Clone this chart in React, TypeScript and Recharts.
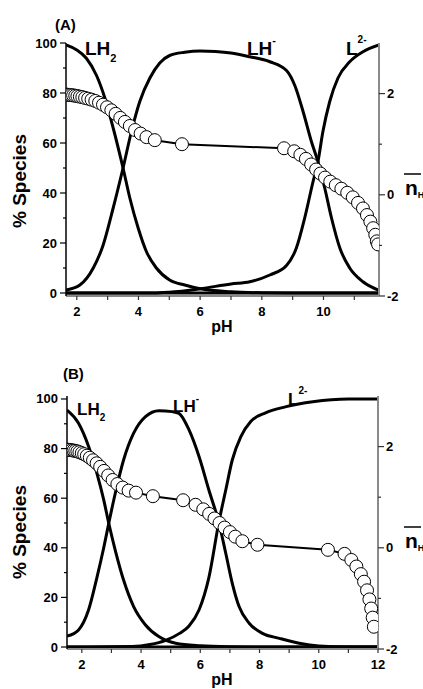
import React from "react";
import { ComposedChart, Line, XAxis, YAxis } from "recharts";

const FONT = "'Liberation Sans', Arial, sans-serif";

// ---- panel (A) ----
const phA_LH2 = [1.65, 2.0, 2.31, 2.64, 2.91, 3.18, 3.5, 3.72, 3.99, 4.26, 4.58, 5.01, 5.5, 6.0, 7.0, 8.0, 9.0, 11.8];
const pctA_LH2 = [99.2, 97.2, 93.9, 87, 78, 66, 50, 38, 26, 16.5, 10, 5.2, 3.2, 1.7, 0.5, 0.1, 0, 0];

const phA_LH = [1.65, 2.1, 2.53, 2.85, 3.18, 3.5, 3.77, 4.04, 4.37, 4.69, 5.01, 5.5, 6.0, 6.5, 7.0, 7.61, 8.26, 8.8, 9.07, 9.34, 9.61, 9.82, 10.04, 10.26, 10.53, 10.85, 11.28, 11.8];
const pctA_LH = [1.2, 3.2, 9.9, 19, 34, 50, 64.5, 76.5, 86, 92, 95, 96.3, 96.8, 96.6, 96, 94.5, 92.5, 89, 83, 72.5, 60.5, 52.5, 42, 30, 18, 10, 4.5, 1.1];

const phA_L = [1.65, 4.5, 5.0, 6.0, 7.0, 7.61, 8.26, 8.8, 9.12, 9.39, 9.66, 9.82, 9.98, 10.2, 10.47, 10.85, 11.28, 11.8];
const pctA_L = [0, 0, 0.3, 1.7, 3.6, 4.5, 7.2, 11, 18, 30, 44.5, 52.5, 64.5, 76.5, 86, 92.5, 96.5, 99.2];

const phA_base = [1.65, 11.8];
const pctA_base = [0, 0];

const phA_nH = [1.65, 1.7, 1.76, 1.82, 1.88, 1.95, 2.02, 2.1, 2.18, 2.27, 2.37, 2.48, 2.6, 2.72, 2.85, 2.98, 3.12, 3.26, 3.41, 3.56, 3.72, 3.89, 4.07, 4.26, 4.53, 5.41, 8.72, 9.05, 9.25, 9.43, 9.6, 9.76, 9.9, 10.05, 10.22, 10.4, 10.58, 10.77, 10.95, 11.12, 11.28, 11.41, 11.52, 11.61, 11.68, 11.73, 11.77];
const nA = [1.98, 1.977, 1.973, 1.97, 1.965, 1.958, 1.95, 1.94, 1.93, 1.915, 1.9, 1.88, 1.855, 1.82, 1.78, 1.73, 1.67, 1.6, 1.52, 1.44, 1.36, 1.28, 1.21, 1.14, 1.08, 1.0, 0.92, 0.86, 0.79, 0.71, 0.6, 0.5, 0.42, 0.34, 0.26, 0.19, 0.12, 0.04, -0.05, -0.16, -0.27, -0.4, -0.53, -0.66, -0.79, -0.92, -0.98];

// ---- panel (B) ----
const phB_LH2 = [1.5, 1.89, 2.23, 2.51, 2.74, 2.91, 3.13, 3.41, 3.75, 4.15, 4.6, 5.17, 6.0, 7.0, 8.0, 12];
const pctB_LH2 = [95.5, 90.2, 80.8, 70, 59.3, 49.9, 39, 27, 16.3, 8.9, 4.2, 1.5, 0.5, 0.1, 0, 0];

const phB_LH = [1.5, 1.89, 2.23, 2.51, 2.74, 2.91, 3.13, 3.41, 3.75, 4.15, 4.6, 5.05, 5.28, 5.62, 5.96, 6.29, 6.63, 6.86, 7.08, 7.31, 7.65, 8.1, 8.67, 9.34, 10.0, 11.0, 12];
const pctB_LH = [4.4, 6.9, 15, 28, 40, 49.9, 62, 75.4, 86.2, 92.9, 95.3, 94.9, 94.2, 87.5, 76.7, 63.3, 50, 37.8, 25.7, 16.3, 9.6, 5.5, 3.5, 1.5, 0.4, 0, 0];

const phB_L = [1.5, 3.7, 4.3, 4.83, 5.3, 5.62, 5.96, 6.29, 6.63, 6.86, 7.08, 7.37, 7.71, 8.22, 8.9, 9.8, 11.0, 12];
const pctB_L = [0, 0.2, 1.0, 2.7, 5.5, 8.5, 15, 28, 50.5, 63.3, 75.4, 84.8, 91, 94.5, 96.9, 98.9, 100, 100];

const phB_base = [1.5, 12];
const pctB_base = [0, 0];

const phB_nH = [1.5, 1.55, 1.6, 1.66, 1.72, 1.78, 1.85, 1.92, 2.0, 2.08, 2.17, 2.27, 2.38, 2.5, 2.62, 2.75, 2.89, 3.04, 3.2, 3.38, 3.58, 3.83, 4.4, 5.42, 5.84, 6.1, 6.3, 6.48, 6.65, 6.82, 7.0, 7.18, 7.42, 7.93, 10.31, 10.87, 11.1, 11.27, 11.42, 11.53, 11.63, 11.71, 11.77, 11.82, 11.86];
const nB = [1.94, 1.937, 1.933, 1.928, 1.922, 1.915, 1.905, 1.89, 1.87, 1.85, 1.82, 1.78, 1.73, 1.67, 1.6, 1.52, 1.43, 1.34, 1.26, 1.19, 1.13, 1.09, 1.02, 0.94, 0.85, 0.76, 0.67, 0.58, 0.49, 0.4, 0.31, 0.22, 0.13, 0.06, -0.04, -0.12, -0.24, -0.37, -0.52, -0.67, -0.84, -1.02, -1.2, -1.38, -1.56];

const leftTicks = [0, 10, 20, 30, 40, 50, 60, 70, 80, 90, 100];
const rightTicks = [-2, -1, 0, 1, 2];
const xTicksA = [2, 3, 4, 5, 6, 7, 8, 9, 10, 11];
const xTicksB = [2, 3, 4, 5, 6, 7, 8, 9, 10, 11, 12];

const pts = (ph: number[], v: number[]) => ph.map((p, i) => ({ ph: p, v: v[i] }));

const LeftTick = (props: any) => {
  const { x, y, payload } = props;
  const major = payload.value % 20 === 0;
  return (
    <g>
      <line x1={x - (major ? 6 : 3)} x2={x} y1={y} y2={y} stroke="#000" strokeWidth={1.2} />
      {major && (
        <text x={x - 9} y={y + 4.5} textAnchor="end" fontSize={13} fontWeight="bold" fontFamily={FONT} fill="#000">
          {payload.value}
        </text>
      )}
    </g>
  );
};

const RightTick = (props: any) => {
  const { x, y, payload } = props;
  const major = payload.value % 2 === 0;
  return (
    <g>
      <line x1={x} x2={x + (major ? 6 : 3)} y1={y} y2={y} stroke="#333" strokeWidth={1.2} />
      {major && (
        <text x={x + 8} y={y + 4.5} textAnchor="start" fontSize={13} fontWeight="bold" fontFamily={FONT} fill="#000">
          {payload.value}
        </text>
      )}
    </g>
  );
};

const BottomTick = (props: any) => {
  const { x, y, payload } = props;
  const major = payload.value % 2 === 0;
  return (
    <g>
      <line x1={x} x2={x} y1={y} y2={y + 4} stroke="#333" strokeWidth={1.2} />
      {major && (
        <text x={x} y={y + 20} textAnchor="middle" fontSize={13} fontWeight="bold" fontFamily={FONT} fill="#000">
          {payload.value}
        </text>
      )}
    </g>
  );
};

interface PanelProps {
  top: number;
  height: number;
  margin: { top: number; right: number; bottom: number; left: number };
  xDomain: [number, number];
  xTicks: number[];
  leftDomain: [number, number];
  species: { ph: number; v: number }[][];
  nh: { ph: number; v: number }[];
}

function Panel({ top, height, margin, xDomain, xTicks, leftDomain, species, nh }: PanelProps) {
  return (
    <div style={{ position: "absolute", left: 0, top }}>
      <ComposedChart width={423} height={height} margin={margin}>
        <XAxis
          type="number"
          dataKey="ph"
          domain={xDomain}
          ticks={xTicks}
          interval={0}
          height={30}
          tickSize={0}
          tickMargin={0}
          tickLine={false}
          axisLine={{ stroke: "#8a8a8a", strokeWidth: 2 }}
          tick={(p: any) => <BottomTick {...p} />}
          allowDataOverflow
        />
        <YAxis
          yAxisId="left"
          orientation="left"
          type="number"
          domain={leftDomain}
          ticks={leftTicks}
          interval={0}
          width={40}
          tickSize={0}
          tickMargin={0}
          tickLine={false}
          axisLine={{ stroke: "#000", strokeWidth: 1.5 }}
          tick={(p: any) => <LeftTick {...p} />}
          allowDataOverflow
        />
        <YAxis
          yAxisId="right"
          orientation="right"
          type="number"
          domain={[-2, 3]}
          ticks={rightTicks}
          interval={0}
          width={30}
          tickSize={0}
          tickMargin={0}
          tickLine={false}
          axisLine={{ stroke: "#8a8a8a", strokeWidth: 2 }}
          tick={(p: any) => <RightTick {...p} />}
          allowDataOverflow
        />
        {species.map((s, i) => (
          <Line
            key={i}
            yAxisId="left"
            data={s}
            dataKey="v"
            type="monotone"
            stroke="#000"
            strokeWidth={3}
            dot={false}
            isAnimationActive={false}
          />
        ))}
        <Line
          yAxisId="right"
          data={nh}
          dataKey="v"
          type="linear"
          stroke="#000"
          strokeWidth={2}
          dot={{ r: 6.5, fill: "#fff", stroke: "#000", strokeWidth: 1 }}
          isAnimationActive={false}
        />
      </ComposedChart>
    </div>
  );
}

function Overlay() {
  return (
    <svg
      width={423}
      height={689}
      style={{ position: "absolute", left: 0, top: 0, pointerEvents: "none" }}
      fontFamily={FONT}
      fontWeight="bold"
      fill="#000"
    >
      {/* panel A */}
      <text x={55} y={30} fontSize={15}>(A)</text>
      <text x={85} y={55} fontSize={19}>
        LH<tspan fontSize={11} dy={7}>2</tspan>
      </text>
      <text x={247} y={55} fontSize={19}>
        LH<tspan fontSize={11} dy={-11}>-</tspan>
      </text>
      <text x={346} y={55} fontSize={19}>
        L<tspan fontSize={10} dy={-12}>2-</tspan>
      </text>
      <text transform="translate(26,181) rotate(-90)" textAnchor="middle" fontSize={19}>% Species</text>
      <text x={222} y={332} textAnchor="middle" fontSize={16}>pH</text>
      <line x1={404} x2={421} y1={174} y2={174} stroke="#000" strokeWidth={1.5} />
      <text x={405} y={195} fontSize={21}>
        n<tspan fontSize={9} dy={3}>H</tspan>
      </text>

      {/* panel B */}
      <text x={63} y={379} fontSize={15}>(B)</text>
      <text x={77} y={415} fontSize={17}>
        LH<tspan fontSize={10} dy={6}>2</tspan>
      </text>
      <text x={173} y={412} fontSize={17}>
        LH<tspan fontSize={10} dy={-10}>-</tspan>
      </text>
      <text x={288} y={405} fontSize={17}>
        L<tspan fontSize={10} dy={-11}>2-</tspan>
      </text>
      <text transform="translate(26,532) rotate(-90)" textAnchor="middle" fontSize={19}>% Species</text>
      <text x={222} y={685} textAnchor="middle" fontSize={16}>pH</text>
      <line x1={404} x2={421} y1={527} y2={527} stroke="#000" strokeWidth={1.5} />
      <text x={405} y={548} fontSize={21}>
        n<tspan fontSize={9} dy={3}>H</tspan>
      </text>
    </svg>
  );
}

export default function App() {
  return (
    <div style={{ position: "absolute", left: 0, top: 0, width: 423, height: 689, background: "#fff" }}>
      <Panel
        top={0}
        height={345}
        margin={{ top: 43, right: 14, bottom: 19, left: 26 }}
        xDomain={[1.65, 11.8]}
        xTicks={xTicksA}
        leftDomain={[-1.2, 100]}
        species={[pts(phA_base, pctA_base), pts(phA_LH2, pctA_LH2), pts(phA_LH, pctA_LH), pts(phA_L, pctA_L)]}
        nh={pts(phA_nH, nA)}
      />
      <Panel
        top={345}
        height={344}
        margin={{ top: 51, right: 15, bottom: 10, left: 27 }}
        xDomain={[1.5, 12]}
        xTicks={xTicksB}
        leftDomain={[-0.8, 101.2]}
        species={[pts(phB_base, pctB_base), pts(phB_LH2, pctB_LH2), pts(phB_LH, pctB_LH), pts(phB_L, pctB_L)]}
        nh={pts(phB_nH, nB)}
      />
      <Overlay />
    </div>
  );
}
